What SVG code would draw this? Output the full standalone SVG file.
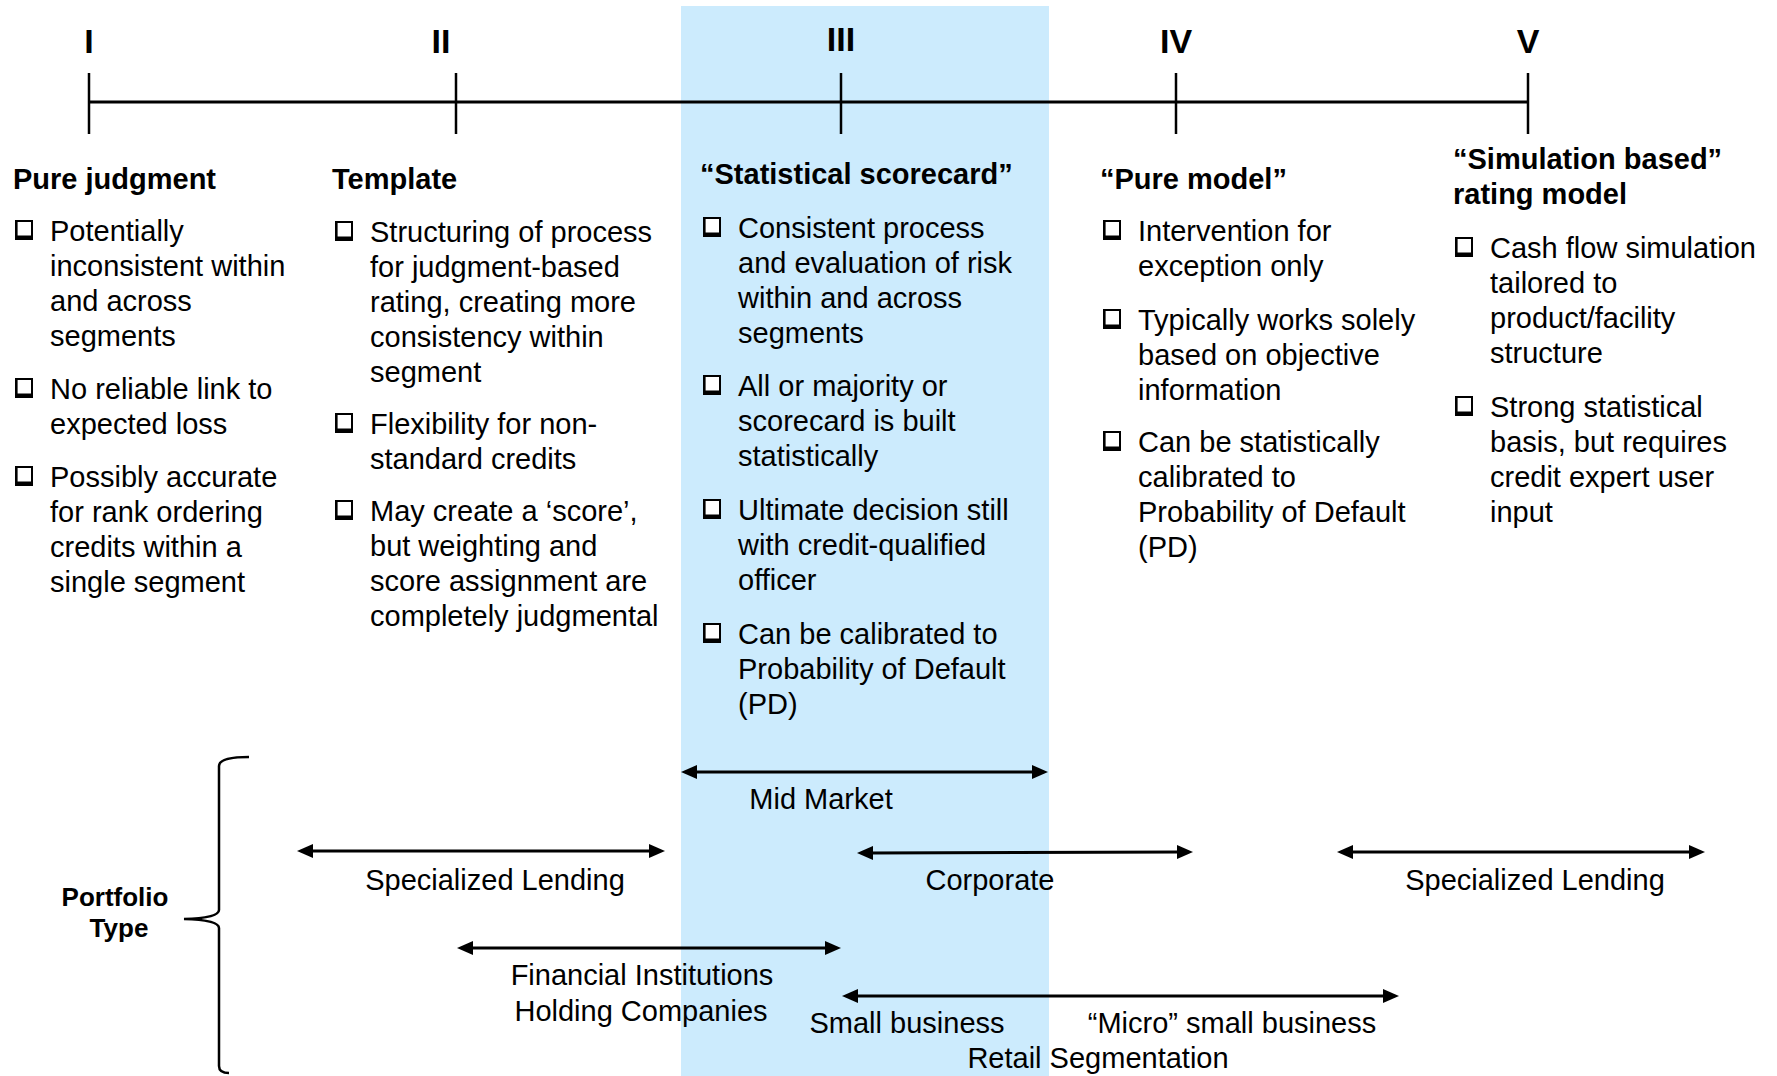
<svg xmlns="http://www.w3.org/2000/svg" xmlns:xlink="http://www.w3.org/1999/xlink" width="1777" height="1076" viewBox="0 0 1777 1076">
  <style>
    text { font-family: "Liberation Sans", Arial, sans-serif; fill: #000; }
    .num { font-size: 34px; font-weight: bold; text-anchor: middle; }
    .head { font-size: 29px; font-weight: bold; }
    .body { font-size: 29px; }
    .lbl { font-size: 29px; text-anchor: middle; }
    .ptype { font-size: 26px; font-weight: bold; text-anchor: middle; }
    .axis { stroke: #000; stroke-width: 3; fill: none; }
    .tick { stroke: #000; stroke-width: 2.5; fill: none; }
    .span { stroke: #000; stroke-width: 3; fill: none; marker-start: url(#head); marker-end: url(#head); }
    .brace { stroke: #000; stroke-width: 2.5; fill: none; }
  </style>
  <defs>
    <marker id="head" viewBox="0 0 16 14" refX="3" refY="7" markerWidth="16" markerHeight="14" markerUnits="userSpaceOnUse" orient="auto-start-reverse">
      <path d="M0,0 L16,7 L0,14 Z" fill="#000"/>
    </marker>
    <!-- shadowed check box used as bullet; origin = bottom-left near text baseline -->
    <g id="box">
      <rect x="1" y="-19" width="16" height="16" fill="#fff" stroke="#000" stroke-width="2"/>
      <rect x="0" y="-4.5" width="18" height="4.5" fill="#000"/>
      <rect x="0" y="-20" width="2.6" height="20" fill="#000"/>
    </g>
  </defs>

  <!-- highlighted stage band -->
  <rect id="band" x="681" y="6" width="368" height="1070" fill="#CCEBFD"/>

  <!-- timeline -->
  <g id="timeline">
    <line class="axis" x1="89" y1="102" x2="1528" y2="102"/>
    <line class="tick" x1="89" y1="73" x2="89" y2="134"/>
    <line class="tick" x1="456" y1="73" x2="456" y2="134"/>
    <line class="tick" x1="841" y1="73" x2="841" y2="134"/>
    <line class="tick" x1="1176" y1="73" x2="1176" y2="134"/>
    <line class="tick" x1="1528" y1="73" x2="1528" y2="134"/>
    <text class="num" x="89" y="53">I</text>
    <text class="num" x="441" y="53">II</text>
    <text class="num" x="841" y="51">III</text>
    <text class="num" x="1176" y="53">IV</text>
    <text class="num" x="1528" y="53">V</text>
  </g>

  <!-- stage I -->
  <g id="stage-1">
    <text class="head" x="13" y="189">Pure judgment</text>
    <use xlink:href="#box" x="15" y="240"/>
    <text class="body" x="50" y="241">Potentially</text>
    <text class="body" x="50" y="276">inconsistent within</text>
    <text class="body" x="50" y="311">and across</text>
    <text class="body" x="50" y="346">segments</text>
    <use xlink:href="#box" x="15" y="398"/>
    <text class="body" x="50" y="399">No reliable link to</text>
    <text class="body" x="50" y="434">expected loss</text>
    <use xlink:href="#box" x="15" y="486"/>
    <text class="body" x="50" y="487">Possibly accurate</text>
    <text class="body" x="50" y="522">for rank ordering</text>
    <text class="body" x="50" y="557">credits within a</text>
    <text class="body" x="50" y="592">single segment</text>
  </g>

  <!-- stage II -->
  <g id="stage-2">
    <text class="head" x="332" y="189">Template</text>
    <use xlink:href="#box" x="335" y="241"/>
    <text class="body" x="370" y="242">Structuring of process</text>
    <text class="body" x="370" y="277">for judgment-based</text>
    <text class="body" x="370" y="312">rating, creating more</text>
    <text class="body" x="370" y="347">consistency within</text>
    <text class="body" x="370" y="382">segment</text>
    <use xlink:href="#box" x="335" y="433"/>
    <text class="body" x="370" y="434">Flexibility for non-</text>
    <text class="body" x="370" y="469">standard credits</text>
    <use xlink:href="#box" x="335" y="520"/>
    <text class="body" x="370" y="521">May create a ‘score’,</text>
    <text class="body" x="370" y="556">but weighting and</text>
    <text class="body" x="370" y="591">score assignment are</text>
    <text class="body" x="370" y="626">completely judgmental</text>
  </g>

  <!-- stage III -->
  <g id="stage-3">
    <text class="head" x="700" y="184">“Statistical scorecard”</text>
    <use xlink:href="#box" x="703" y="237"/>
    <text class="body" x="738" y="238">Consistent process</text>
    <text class="body" x="738" y="273">and evaluation of risk</text>
    <text class="body" x="738" y="308">within and across</text>
    <text class="body" x="738" y="343">segments</text>
    <use xlink:href="#box" x="703" y="395"/>
    <text class="body" x="738" y="396">All or majority or</text>
    <text class="body" x="738" y="431">scorecard is built</text>
    <text class="body" x="738" y="466">statistically</text>
    <use xlink:href="#box" x="703" y="519"/>
    <text class="body" x="738" y="520">Ultimate decision still</text>
    <text class="body" x="738" y="555">with credit-qualified</text>
    <text class="body" x="738" y="590">officer</text>
    <use xlink:href="#box" x="703" y="643"/>
    <text class="body" x="738" y="644">Can be calibrated to</text>
    <text class="body" x="738" y="679">Probability of Default</text>
    <text class="body" x="738" y="714">(PD)</text>
  </g>

  <!-- stage IV -->
  <g id="stage-4">
    <text class="head" x="1100" y="189">“Pure model”</text>
    <use xlink:href="#box" x="1103" y="240"/>
    <text class="body" x="1138" y="241">Intervention for</text>
    <text class="body" x="1138" y="276">exception only</text>
    <use xlink:href="#box" x="1103" y="329"/>
    <text class="body" x="1138" y="330">Typically works solely</text>
    <text class="body" x="1138" y="365">based on objective</text>
    <text class="body" x="1138" y="400">information</text>
    <use xlink:href="#box" x="1103" y="451"/>
    <text class="body" x="1138" y="452">Can be statistically</text>
    <text class="body" x="1138" y="487">calibrated to</text>
    <text class="body" x="1138" y="522">Probability of Default</text>
    <text class="body" x="1138" y="557">(PD)</text>
  </g>

  <!-- stage V -->
  <g id="stage-5">
    <text class="head" x="1453" y="169">“Simulation based”</text>
    <text class="head" x="1453" y="204">rating model</text>
    <use xlink:href="#box" x="1455" y="257"/>
    <text class="body" x="1490" y="258">Cash flow simulation</text>
    <text class="body" x="1490" y="293">tailored to</text>
    <text class="body" x="1490" y="328">product/facility</text>
    <text class="body" x="1490" y="363">structure</text>
    <use xlink:href="#box" x="1455" y="416"/>
    <text class="body" x="1490" y="417">Strong statistical</text>
    <text class="body" x="1490" y="452">basis, but requires</text>
    <text class="body" x="1490" y="487">credit expert user</text>
    <text class="body" x="1490" y="522">input</text>
  </g>

  <!-- portfolio type brace -->
  <g id="portfolio-type">
    <path class="brace" d="M249,757 Q219,757 219,766 L219,910 Q219,918 184,919 Q219,920 219,928 L219,1066 Q219,1073 229,1073"/>
    <text class="ptype" x="115" y="906">Portfolio</text>
    <text class="ptype" x="119" y="937">Type</text>
  </g>

  <!-- portfolio ranges -->
  <g id="connectors">
    <line class="span" x1="694" y1="772" x2="1035" y2="772"/>
    <line class="span" x1="310" y1="851" x2="652" y2="851"/>
    <line class="span" x1="870" y1="853" x2="1180" y2="852"/>
    <line class="span" x1="1350" y1="852" x2="1692" y2="852"/>
    <line class="span" x1="470" y1="948" x2="828" y2="948"/>
    <line class="span" x1="855" y1="996" x2="1386" y2="996"/>
  </g>

  <g id="range-labels">
    <text class="lbl" x="821" y="809">Mid Market</text>
    <text class="lbl" x="495" y="890">Specialized Lending</text>
    <text class="lbl" x="990" y="890">Corporate</text>
    <text class="lbl" x="1535" y="890">Specialized Lending</text>
    <text class="lbl" x="642" y="985">Financial Institutions</text>
    <text class="lbl" x="641" y="1021">Holding Companies</text>
    <text class="lbl" x="907" y="1033">Small business</text>
    <text class="lbl" x="1232" y="1033">“Micro” small business</text>
    <text class="lbl" x="1098" y="1068">Retail Segmentation</text>
  </g>
</svg>
